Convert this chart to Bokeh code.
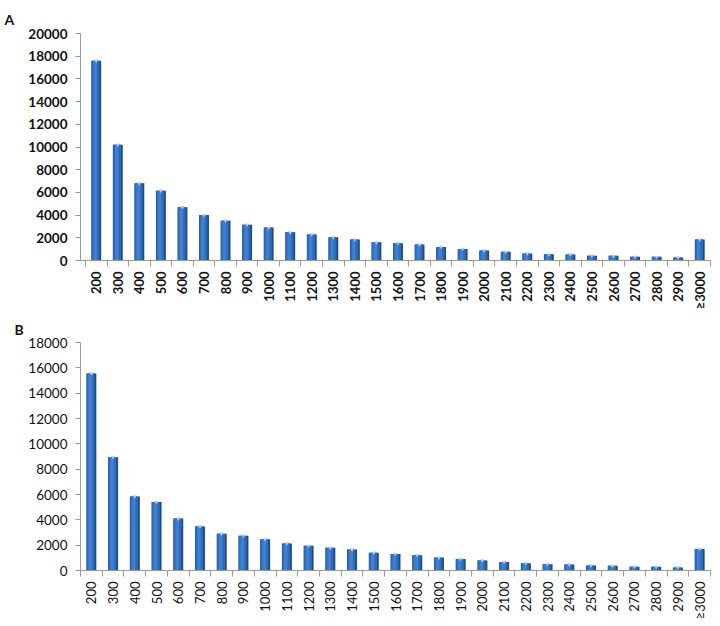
import math
import numpy as np
from bokeh.plotting import figure
from bokeh.layouts import column
from bokeh.models import Range1d, FixedTicker, LinearAxis, Title
from bokeh.embed import file_html
from bokeh.resources import INLINE

categories = ["200", "300", "400", "500", "600", "700", "800", "900", "1000",
              "1100", "1200", "1300", "1400", "1500", "1600", "1700", "1800",
              "1900", "2000", "2100", "2200", "2300", "2400", "2500", "2600",
              "2700", "2800", "2900", "\u22653000"]

counts_a = [17600, 10200, 6800, 6150, 4700, 4000, 3500, 3150, 2900,
            2480, 2300, 2050, 1850, 1600, 1520, 1400, 1200, 1020, 880,
            760, 620, 540, 530, 420, 410, 330, 320, 260, 1850]

counts_b = [15550, 8950, 5850, 5400, 4100, 3480, 2900, 2750, 2460,
            2140, 1950, 1790, 1650, 1400, 1310, 1210, 1020, 910, 790,
            680, 580, 500, 480, 400, 370, 300, 290, 240, 1700]

yticks_a = list(range(0, 20001, 2000))
yticks_b = list(range(0, 18001, 2000))

FONT = "Lato"


def make_panel(letter, counts, yticks, ymax, width, height, left, top, bottom,
               x_start, bold, title_standoff):
    weight = "bold" if bold else "normal"
    p = figure(width=width, height=height, output_backend="svg",
               toolbar_location=None, x_range=Range1d(x_start, len(categories)),
               y_range=Range1d(0, ymax), x_axis_type=None,
               min_border_left=left, min_border_right=2,
               min_border_top=top, min_border_bottom=bottom)
    p.outline_line_color = None
    p.xgrid.visible = False
    p.ygrid.visible = False

    x = np.arange(len(categories)) + 0.5
    # bar body: dark edge, lighter body, highlight
    p.vbar(x=x, top=counts, bottom=0, width=0.46, fill_color="#1d4a87",
           line_color=None)
    p.vbar(x=x - 0.03, top=counts, bottom=0, width=0.36, fill_color="#2f6bbb",
           line_color=None)
    p.vbar(x=x - 0.05, top=counts, bottom=0, width=0.16, fill_color="#4080cf",
           line_color=None)
    p.scatter(x=x, y=counts, marker="inverted_triangle", size=4,
              fill_color="#a9d3f5", line_color=None)

    # y axis
    yax = p.yaxis[0]
    yax.ticker = FixedTicker(ticks=yticks)
    yax.minor_tick_line_color = None
    yax.major_tick_in = 0
    yax.major_tick_out = 5
    yax.axis_line_color = "#9a9a9a"
    yax.major_tick_line_color = "#9a9a9a"
    yax.major_label_text_font = FONT
    yax.major_label_text_font_size = "13.5px"
    yax.major_label_text_font_style = weight
    yax.major_label_text_color = "#111111"
    yax.major_label_standoff = 8

    # x axis: labels at category centres, ticks at category boundaries
    bounds = list(range(len(categories) + 1))
    overrides = {float(v): c for v, c in zip(x, categories)}
    xax = LinearAxis(ticker=FixedTicker(ticks=list(x), minor_ticks=bounds),
                     major_label_overrides=overrides,
                     major_label_orientation=math.pi / 2,
                     major_tick_line_color=None,
                     major_tick_in=0, major_tick_out=6,
                     minor_tick_in=0, minor_tick_out=6,
                     minor_tick_line_color="#9a9a9a",
                     axis_line_color="#9a9a9a",
                     major_label_standoff=5,
                     major_label_text_font=FONT,
                     major_label_text_font_size="13px",
                     major_label_text_font_style=weight,
                     major_label_text_color="#111111")
    p.add_layout(xax, "below")

    p.title = Title(text=letter, align="left", offset=-(left - 4),
                    standoff=title_standoff,
                    text_font=FONT, text_font_size="14px",
                    text_font_style="bold", text_color="#111111")
    return p


pa = make_panel("A", counts_a, yticks_a, 20000, 712, 312, 80, 33, 51, -0.23,
                True, 12)
pb = make_panel("B", counts_b, yticks_b, 18000, 712, 314, 70, 30, 56, 0.0,
                False, 10)

layout = column(pa, pb, spacing=0)
open("out.html", "w").write(file_html(layout, INLINE))
